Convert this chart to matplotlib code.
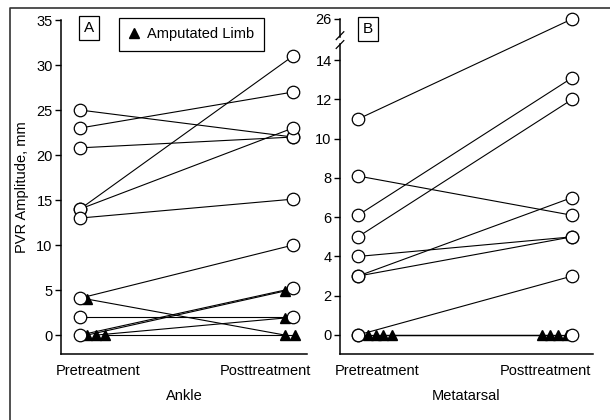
import matplotlib
matplotlib.use("Agg")
import matplotlib.pyplot as plt
from matplotlib.lines import Line2D
import numpy as np

plt.rcParams['font.family'] = ['Liberation Sans', 'DejaVu Sans']
plt.rcParams['font.size'] = 10.5

# Panel A - Ankle (open circles = limbs kept, triangles = amputated)
ankle_circ_pre = [25, 23, 20.8, 14, 14, 13, 4.1, 2, 0]
ankle_circ_post = [22, 27, 22, 31, 23, 15.1, 10, 2, 5.2]
ankle_tri_pre = [4, 0, 0, 0]
ankle_tri_post = [0, 4.9, 1.9, 0]

# Panel B - Metatarsal
meta_circ_pre = [11, 8.1, 6.1, 5, 4, 3, 3, 0, 0]
meta_circ_post = [26, 6.1, 13.1, 12, 5, 7, 5, 3, 0]
meta_tri_pre = [0, 0, 0, 0]
meta_tri_post = [0, 0, 0, 0]

groups = ['Pretreatment', 'Posttreatment']

W, H = 610, 420
fig = plt.figure(figsize=(W / 100, H / 100), dpi=100)

# outer frame (only left and top edges are visible in the original crop)
fig.add_artist(Line2D([10 / W, 10 / W, 1], [0, 1 - 8 / H, 1 - 8 / H], color='#333333', lw=1.2))

lw = 0.8
circ_style = dict(marker='o', ms=9, mfc='white', mec='black', mew=0.9, color='black')
tri_style = dict(marker='^', ms=7.5, mfc='black', mec='black', color='black', lw=lw)


def draw_panel(ax, px_per_unit, c_pre, c_post, t_pre, t_post, pre_off, post_off):
    for a, b in zip(c_pre, c_post):
        ax.plot([0, 1], [a, b], color='black', lw=lw, zorder=2)
    for i, (a, b) in enumerate(zip(t_pre, t_post)):
        x0 = pre_off[i] / px_per_unit
        x1 = 1 + post_off[i] / px_per_unit
        ax.plot([x0, x1], [a, b], zorder=2, **tri_style)
    for a, b in zip(c_pre, c_post):
        ax.plot([0, 1], [a, b], zorder=3, ls='none', clip_on=False, **circ_style)


def style_axes(ax, ticks_at):
    ax.spines['top'].set_visible(False)
    ax.spines['right'].set_visible(False)
    ax.spines['left'].set_linewidth(1.1)
    ax.spines['bottom'].set_linewidth(1.1)
    ax.set_xticks(ticks_at)
    ax.set_xticklabels(groups)
    ax.tick_params(axis='x', length=0, pad=7)
    ax.tick_params(axis='y', length=4, width=1, pad=2, direction='out')


# ---- Panel A ----
axA = fig.add_axes([61 / W, 1 - 354 / H, 246 / W, 334 / H])
pxA = 213
draw_panel(axA, pxA, ankle_circ_pre, ankle_circ_post, ankle_tri_pre, ankle_tri_post,
           [7, 7, 16, 25], [-8, -8, -8, 2])
axA.set_xlim(-19 / pxA, 1 + 14 / pxA)
axA.set_ylim(-2.1, 35)
axA.set_yticks(range(0, 36, 5))
style_axes(axA, [18 / pxA, 1 - 28 / pxA])
axA.set_xlabel('Ankle', labelpad=8)
axA.set_ylabel('PVR Amplitude, mm')
axA.yaxis.set_label_coords(-0.13, 0.5)
axA.text(89 / W, 1 - 28 / H, 'A', transform=fig.transFigure, ha='center', va='center', fontsize=11,
         bbox=dict(boxstyle='square,pad=0.3', fc='white', ec='black', lw=0.9))
axA.legend(handles=[Line2D([], [], ls='none', marker='^', ms=7, color='black')],
           labels=['Amputated Limb'], loc='upper left', bbox_to_anchor=(119 / W, 1 - 18 / H),
           bbox_transform=fig.transFigure, fancybox=False, edgecolor='black', framealpha=1,
           handlelength=0.8, handletextpad=0.5, borderpad=0.65, borderaxespad=0,
           fontsize=10.5).get_frame().set_linewidth(0.9)

# ---- Panel B (broken axis: 15..26 compressed) ----
def fwd(y):
    y = np.asarray(y, dtype=float)
    return np.where(y <= 15, y, 15 + (y - 15) / 10)


def inv(u):
    u = np.asarray(u, dtype=float)
    return np.where(u <= 15, u, 15 + (u - 15) * 10)


axB = fig.add_axes([340 / W, 1 - 354 / H, 253 / W, 335 / H])
axB.set_yscale('function', functions=(fwd, inv))
pxB = 214
draw_panel(axB, pxB, meta_circ_pre, meta_circ_post, meta_tri_pre, meta_tri_post,
           [10, 18, 25, 34], [-30, -22, -14, -5])
axB.set_xlim(-18 / pxB, 1 + 21 / pxB)
axB.set_ylim(-0.97, 26)
axB.set_yticks([0, 2, 4, 6, 8, 10, 12, 14, 26])
axB.set_yticklabels(['0', '2', '4', '6', '8', '10', '12', '14', '26'])
axB.yaxis.set_minor_locator(matplotlib.ticker.NullLocator())
style_axes(axB, [19 / pxB, 1 - 27 / pxB])
axB.set_xlabel('Metatarsal', labelpad=8)
axB.spines['left'].set_bounds(-0.97, 14.85)
yt = axB.get_yaxis_transform()
axB.plot([0, 0], [inv(15.17), 26], transform=yt, color='black', lw=1.1, clip_on=False)
for lo, hi in [(14.6, 15.0), (15.05, 15.45)]:
    axB.plot([-0.015, 0.015], [inv(lo), inv(hi)], transform=yt, color='black', lw=0.9, clip_on=False)
axB.text(368 / W, 1 - 29 / H, 'B', transform=fig.transFigure, ha='center', va='center', fontsize=11,
         bbox=dict(boxstyle='square,pad=0.3', fc='white', ec='black', lw=0.9))

fig.savefig('out.png', dpi=100)
